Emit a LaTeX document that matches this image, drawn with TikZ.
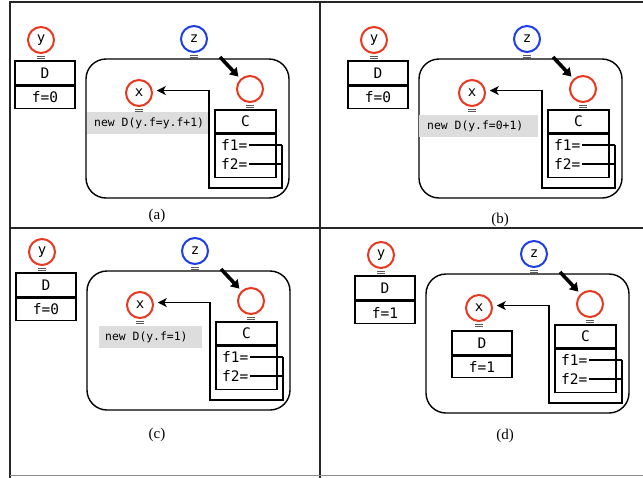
\documentclass[tikz,border=0pt]{standalone}
\usepackage{fontspec}
\setmainfont{Liberation Serif}
\setmonofont{DejaVu Sans Mono}
\usetikzlibrary{arrows.meta}
\definecolor{refred}{RGB}{232,56,32}
\definecolor{refblue}{RGB}{30,62,232}
\definecolor{codegray}{RGB}{221,221,221}
\tikzset{
  var/.style={circle, draw=refred, line width=2pt, minimum size=26pt, inner sep=0pt,
              font=\fontsize{14}{14}\selectfont\ttfamily},
  zvar/.style={var, draw=refblue},
  cell/.style={draw, line width=1.5pt, minimum width=60pt, inner sep=0pt,
               font=\fontsize{14.5}{14.5}\selectfont\ttfamily},
  field/.style={inner sep=1pt, font=\fontsize{14.5}{14.5}\selectfont\ttfamily},
  scopebox/.style={draw, line width=1.4pt, rounded corners=20pt, inner sep=0pt},
  codebox/.style={fill=codegray, inner sep=0pt, minimum height=22pt},
  codetext/.style={inner sep=0pt, font=\fontsize{11.4}{11.4}\selectfont\ttfamily},
  link/.style={line width=1.6pt},
  ptr/.style={link, -{Stealth[length=9pt,width=9pt,inset=2.5pt]}, shorten >=4pt},
  boldptr/.style={line width=3.6pt, -{Triangle[length=8pt,width=10pt]}, shorten >=3pt},
  eqline/.style={line width=0.8pt, black!65},
  framel/.style={line width=1.6pt, black!85},
  caption/.style={inner sep=0pt, font=\fontsize{15}{15}\selectfont}
}
\newcommand\eqmk[1]{%
  \draw[eqline] ([xshift=-4pt,yshift=-2pt]#1.south) -- ++(8,0);
  \draw[eqline] ([xshift=-4pt,yshift=-4.5pt]#1.south) -- ++(8,0);}
% #1 prefix, #2 shift x, #3 shift y, #4 value of y.f
\newcommand\refpanel[4]{%
\begin{scope}[shift={(#2,#3)}]
  \node[var] (#1y) at (41,40) {y};
  \eqmk{#1y}
  \node[cell, minimum height=24pt] (#1yD) at (45,73) {D};
  \node[cell, minimum height=22pt, anchor=north] (#1yF) at (#1yD.south) {f=#4};
  \node[zvar] (#1z) at (194,39) {z};
  \eqmk{#1z}
  \node[scopebox, minimum width=203pt, minimum height=139pt] (#1S) at (187.5,128.5) {};
  \node[var] (#1o) at (250,89) {};
  \eqmk{#1o}
  \node[var] (#1x) at (139,93) {x};
  \eqmk{#1x}
  \node[cell, minimum width=61pt, minimum height=23pt] (#1C) at (245.5,121.5) {C};
  \node[cell, minimum width=61pt, minimum height=43pt, anchor=north] (#1CF) at (#1C.south) {};
  \node[field, anchor=west] (#1f1) at (220,145) {f1=};
  \node[field, anchor=west] (#1f2) at (220,164) {f2=};
  \coordinate (#1r) at (282,188);
  \coordinate (#1l) at (209,188);
  \coordinate (#1zs) at (220,57);
  \draw[link] (#1f1.east) -- (#1f1.east -| #1r);
  \draw[link] (#1f2.east) -- (#1f2.east -| #1r);
  \draw[ptr] (#1f1.east -| #1r) -- (#1r) -- (#1l) |- (#1x.10);
  \draw[boldptr] (#1zs) -- (#1o);
\end{scope}}
\begin{document}
\begin{tikzpicture}[x=1pt, y=-1pt]
  \useasboundingbox (0,0) rectangle (643,477);
  % frame
  \draw[framel] (10,478) -- (10,2) -- (645,2);
  \draw[framel] (320,2) -- (320,478);
  \draw[framel] (10,228) -- (645,228);
  \draw[line width=1.2pt, black!45] (10,475.8) -- (645,475.8);
  % (a)
  \refpanel{a}{0}{0}{0}
  \node[codebox, minimum width=121pt, anchor=west] (acode) at (87,123) {};
  \node[codetext, anchor=west] (actext) at ([xshift=7pt]acode.west) {new D(y.f=y.f+1)};
  \node[caption] (acap) at (157,216) {(a)};
  % (b)
  \refpanel{b}{333}{0}{0}
  \node[codebox, minimum width=119pt, anchor=west] (bcode) at (419,126) {};
  \node[codetext, anchor=west] (bctext) at ([xshift=8pt]bcode.west) {new D(y.f=0+1)};
  \node[caption] (bcap) at (500,220) {(b)};
  % (c)
  \refpanel{c}{1}{212}{0}
  \node[codebox, minimum width=103pt, anchor=west] (ccode) at (99,337) {};
  \node[codetext, anchor=west] (cctext) at ([xshift=6pt]ccode.west) {new D(y.f=1)};
  \node[caption] (ccap) at (157,435) {(c)};
  % (d)
  \refpanel{d}{340}{215}{1}
  \node[cell, minimum height=24pt] (dxD) at (482,343) {D};
  \node[cell, minimum height=21pt, anchor=north] (dxF) at (dxD.south) {f=1};
  \node[caption] (dcap) at (505,436) {(d)};
\end{tikzpicture}
\end{document}
